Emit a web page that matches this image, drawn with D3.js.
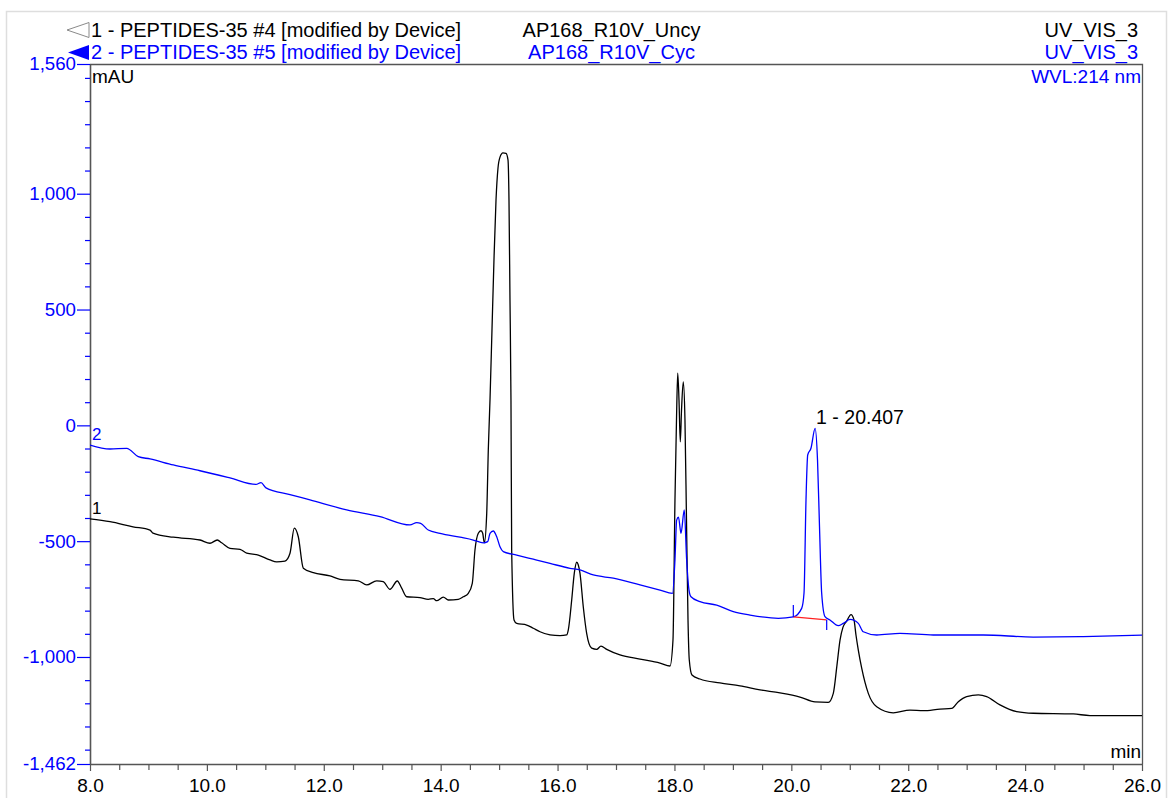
<!DOCTYPE html>
<html>
<head>
<meta charset="utf-8">
<script src="https://cdn.jsdelivr.net/npm/d3@7"></script>
<style>
  html, body { margin: 0; padding: 0; background: #fff; }
  svg { display: block; font-family: "Liberation Sans", Arial, sans-serif; }
</style>
</head>
<body>
<svg id="chart" width="1168" height="798"></svg>
<script>
// Chromatogram overlay: UV_VIS_3 (214 nm), two injections.

// Trace 1 — AP168_R10V_Uncy (retention time in min, absorbance in mAU)
const uncyTime = [8.000, 8.342, 8.736, 9.027, 9.078, 9.425, 9.882, 10.053, 10.178, 10.253,
  10.395, 10.567, 10.681, 10.880, 11.080, 11.194, 11.336, 11.422, 11.496, 11.564,
  11.650, 11.821, 12.106, 12.278, 12.591, 12.734, 12.905, 13.018, 13.133, 13.258,
  13.333, 13.419, 13.646, 13.788, 13.874, 13.932, 14.045, 14.131, 14.302, 14.387,
  14.473, 14.541, 14.587, 14.644, 14.690, 14.719, 14.747, 14.788, 14.815, 14.844,
  14.878, 14.912, 14.947, 14.981, 15.015, 15.066, 15.118, 15.152, 15.169, 15.186,
  15.203, 15.215, 15.255, 15.301, 15.472, 15.585, 15.700, 15.871, 16.042, 16.156,
  16.184, 16.242, 16.286, 16.327, 16.355, 16.384, 16.440, 16.498, 16.584, 16.670,
  16.743, 16.841, 17.068, 17.411, 17.753, 17.924, 17.975, 18.009, 18.035, 18.056,
  18.078, 18.100, 18.121, 18.151, 18.180, 18.206, 18.232, 18.254, 18.300, 18.437,
  18.779, 19.122, 19.464, 19.806, 20.148, 20.405, 20.632, 20.718, 20.781, 20.833,
  20.884, 20.947, 21.021, 21.072, 21.106, 21.146, 21.204, 21.317, 21.461, 21.744,
  22.030, 22.258, 22.544, 22.744, 22.857, 23.000, 23.199, 23.342, 23.570, 23.856,
  24.140, 24.824, 25.110, 26.000];
const uncyMAU = [-404, -416, -438, -452, -465, -483, -495, -509, -495, -507,
  -531, -535, -552, -560, -581, -589, -586, -552, -444, -481,
  -617, -636, -650, -665, -671, -689, -671, -675, -708, -672,
  -703, -740, -744, -751, -748, -757, -742, -754, -751, -740,
  -725, -682, -538, -466, -455, -466, -507, -380, -106, 109,
  412, 714, 973, 1111, 1158, 1176, 1174, 1146, 973, 541,
  109, -538, -840, -855, -862, -876, -891, -905, -908, -905,
  -883, -754, -639, -591, -603, -639, -783, -898, -962, -967,
  -953, -967, -991, -1009, -1026, -1039, -927, -322, 23, 225,
  109, -71, 66, 188, 23, -409, -840, -1013, -1078, -1095,
  -1112, -1125, -1142, -1155, -1173, -1194, -1196, -1157, -1035, -927,
  -871, -845, -817, -840, -905, -970, -1048, -1157, -1215, -1241,
  -1229, -1232, -1225, -1222, -1193, -1171, -1164, -1171, -1207, -1236,
  -1243, -1246, -1253, -1253];

// Trace 2 — AP168_R10V_Cyc
const cycTime = [8.000, 8.342, 8.628, 8.826, 9.027, 9.425, 9.882, 10.395, 10.840, 10.926,
  11.011, 11.422, 11.764, 12.392, 12.962, 13.475, 13.590, 13.658, 13.788, 13.989,
  14.331, 14.558, 14.729, 14.805, 14.844, 14.900, 14.959, 15.015, 15.072, 15.301,
  15.585, 15.871, 16.213, 16.384, 16.611, 16.954, 17.411, 17.753, 17.967, 18.009,
  18.038, 18.069, 18.112, 18.168, 18.209, 18.249, 18.283, 18.437, 18.723, 19.007,
  19.293, 19.777, 20.034, 20.177, 20.217, 20.251, 20.280, 20.336, 20.407, 20.448,
  20.482, 20.519, 20.576, 20.661, 20.803, 20.889, 21.004, 21.146, 21.231, 21.461,
  21.859, 22.429, 23.284, 24.140, 24.995, 26.000];
const cycMAU = [-85, -102, -99, -135, -145, -171, -196, -227, -255, -247,
  -270, -299, -322, -365, -394, -430, -420, -423, -452, -466,
  -483, -495, -507, -502, -466, -456, -481, -524, -545, -560,
  -578, -596, -617, -624, -646, -660, -689, -711, -725, -581,
  -409, -396, -466, -365, -581, -711, -740, -761, -776, -804,
  -819, -833, -827, -790, -724, -322, -128, -99, -13, -150,
  -438, -724, -826, -840, -865, -855, -838, -855, -891, -905,
  -898, -905, -905, -914, -912, -906];

// Integrated peak on trace 2: start / end of the baseline, and its label
const peakBaseTime = [20.034, 20.605];
const peakBaseMAU = [-827, -840];
const peakApexTime = 20.407;
const peakApexMAU = -13;
const peakLabel = "1 - 20.407";

// Axes
const yMajorTicks = [1560, 1000, 500, 0, -500, -1000, -1462];
const yTickLabels = ["1,560", "1,000", "500", "0", "-500", "-1,000", "-1,462"];
const xMajorTicks = [8, 10, 12, 14, 16, 18, 20, 22, 24, 26];
const xTickLabels = ["8.0", "10.0", "12.0", "14.0", "16.0", "18.0", "20.0", "22.0", "24.0", "26.0"];

// Header rows: [left text, centre text, right text]
const headerRow1 = ["1 - PEPTIDES-35 #4 [modified by Device]", "AP168_R10V_Uncy", "UV_VIS_3"];
const headerRow2 = ["2 - PEPTIDES-35 #5 [modified by Device]", "AP168_R10V_Cyc", "UV_VIS_3"];

const BLUE = "#0000ff";
const BLACK = "#000000";
const AXIS = "#555555";

const svg = d3.select("#chart");
const plotL = 90, plotR = 1142, plotT = 64, plotB = 764;

const x = d3.scaleLinear().domain([8, 26]).range([plotL, plotR]);
const y = d3.scaleLinear().domain([-1462, 1560]).range([plotB, plotT]);

// Outer panel border
svg.append("rect")
  .attr("x", 6.5).attr("y", 11.5).attr("width", 1160).attr("height", 820)
  .attr("fill", "none").attr("stroke", "#dedede").attr("stroke-width", 1.5);

// Header
const hdr = svg.append("g").attr("font-size", 20);
hdr.append("polygon")
  .attr("points", "67,30 89,22.5 89,37.5")
  .attr("fill", "#fff").attr("stroke", "#8a8a8a").attr("stroke-width", 1);
hdr.append("polygon")
  .attr("points", "68,52.5 89,45 89,60")
  .attr("fill", BLUE);
[[headerRow1, 37, BLACK], [headerRow2, 59, BLUE]].forEach(([row, base, col]) => {
  hdr.append("text").attr("x", 91).attr("y", base).attr("fill", col).text(row[0]);
  hdr.append("text").attr("x", 611.5).attr("y", base).attr("fill", col)
    .attr("text-anchor", "middle").text(row[1]);
  hdr.append("text").attr("x", 1138).attr("y", base).attr("fill", col)
    .attr("text-anchor", "end").text(row[2]);
});

// Plot frame (top and right edges)
svg.append("path")
  .attr("d", `M${plotL},${plotT + 0.5}H${plotR + 0.5}V${plotB}`)
  .attr("fill", "none").attr("stroke", AXIS).attr("stroke-width", 1.3);

// Y axis: major ticks with labels, minor ticks every 100 mAU
const yMinorTicks = d3.range(1500, -1462, -100).filter(v => !yMajorTicks.includes(v));
const yAxisG = svg.append("g").attr("transform", `translate(${plotL},0)`);
yAxisG.call(d3.axisLeft(y).tickValues(yMajorTicks).tickSize(13).tickSizeOuter(0)
  .tickPadding(1).tickFormat((d, i) => yTickLabels[i]));
yAxisG.append("g").attr("class", "minor").call(d3.axisLeft(y).tickValues(yMinorTicks)
  .tickSize(5).tickSizeOuter(0).tickFormat(""));
yAxisG.select(".minor .domain").remove();
yAxisG.selectAll(".domain").attr("stroke", AXIS).attr("stroke-width", 1.6);
yAxisG.selectAll(".tick line").attr("stroke", BLUE).attr("stroke-width", 1.2);
yAxisG.selectAll(".tick text").attr("fill", BLUE).attr("font-size", 18.7)
  .attr("font-family", "'Liberation Sans', Arial, sans-serif");

// X axis: labelled ticks every 2 min, minor ticks every 0.5 min
const xMinorTicks = d3.range(8.5, 26, 0.5).filter(v => !xMajorTicks.includes(v));
const xAxisG = svg.append("g").attr("transform", `translate(0,${plotB})`);
xAxisG.call(d3.axisBottom(x).tickValues(xMajorTicks).tickSize(7).tickSizeOuter(0)
  .tickPadding(8).tickFormat((d, i) => xTickLabels[i]));
xAxisG.append("g").attr("class", "minor").call(d3.axisBottom(x).tickValues(xMinorTicks)
  .tickSize(6).tickSizeOuter(0).tickFormat(""));
xAxisG.select(".minor .domain").remove();
xAxisG.selectAll(".domain").attr("stroke", AXIS).attr("stroke-width", 1.6);
xAxisG.selectAll(".tick line").attr("stroke", AXIS).attr("stroke-width", 1.2);
xAxisG.selectAll(".tick text").attr("fill", BLACK).attr("font-size", 19)
  .attr("font-family", "'Liberation Sans', Arial, sans-serif");

// Unit labels
svg.append("text").attr("x", 92).attr("y", 83).attr("font-size", 19)
  .attr("fill", BLACK).text("mAU");
svg.append("text").attr("x", 1141).attr("y", 83).attr("font-size", 19)
  .attr("fill", BLUE).attr("text-anchor", "end").text("WVL:214 nm");
svg.append("text").attr("x", 1141).attr("y", 758).attr("font-size", 19)
  .attr("fill", BLACK).attr("text-anchor", "end").text("min");

// Traces
svg.append("clipPath").attr("id", "plotClip").append("rect")
  .attr("x", plotL).attr("y", plotT).attr("width", plotR - plotL).attr("height", plotB - plotT);
const plot = svg.append("g").attr("clip-path", "url(#plotClip)");

const line = d3.line().x(d => x(d[0])).y(d => y(d[1])).curve(d3.curveMonotoneX);
const uncy = d3.zip(uncyTime, uncyMAU);
const cyc = d3.zip(cycTime, cycMAU);

plot.append("path").datum(uncy).attr("d", line)
  .attr("fill", "none").attr("stroke", BLACK).attr("stroke-width", 1.3)
  .attr("stroke-linejoin", "round");
plot.append("path").datum(cyc).attr("d", line)
  .attr("fill", "none").attr("stroke", BLUE).attr("stroke-width", 1.3)
  .attr("stroke-linejoin", "round");

// Integration baseline and peak delimiters on trace 2
const b0 = [x(peakBaseTime[0]), y(peakBaseMAU[0])];
const b1 = [x(peakBaseTime[1]), y(peakBaseMAU[1])];
plot.append("line")
  .attr("x1", b0[0]).attr("y1", b0[1]).attr("x2", b1[0]).attr("y2", b1[1])
  .attr("stroke", "#ff2020").attr("stroke-width", 1.3);
plot.append("line")
  .attr("x1", b0[0]).attr("y1", b0[1]).attr("x2", b0[0]).attr("y2", b0[1] - 12)
  .attr("stroke", BLUE).attr("stroke-width", 1.2);
plot.append("line")
  .attr("x1", b1[0]).attr("y1", b1[1]).attr("x2", b1[0]).attr("y2", b1[1] + 10)
  .attr("stroke", BLUE).attr("stroke-width", 1.2);

// Peak label
svg.append("text")
  .attr("x", x(peakApexTime) + 1).attr("y", y(peakApexMAU) - 4)
  .attr("font-size", 19.5).attr("fill", BLACK).text(peakLabel);

// Trace numbers at the start of each trace
svg.append("text").attr("x", x(cycTime[0]) + 2).attr("y", y(cycMAU[0]) - 5)
  .attr("font-size", 17).attr("fill", BLUE).text("2");
svg.append("text").attr("x", x(uncyTime[0]) + 2).attr("y", y(uncyMAU[0]) - 5)
  .attr("font-size", 17).attr("fill", BLACK).text("1");
</script>
</body>
</html>
